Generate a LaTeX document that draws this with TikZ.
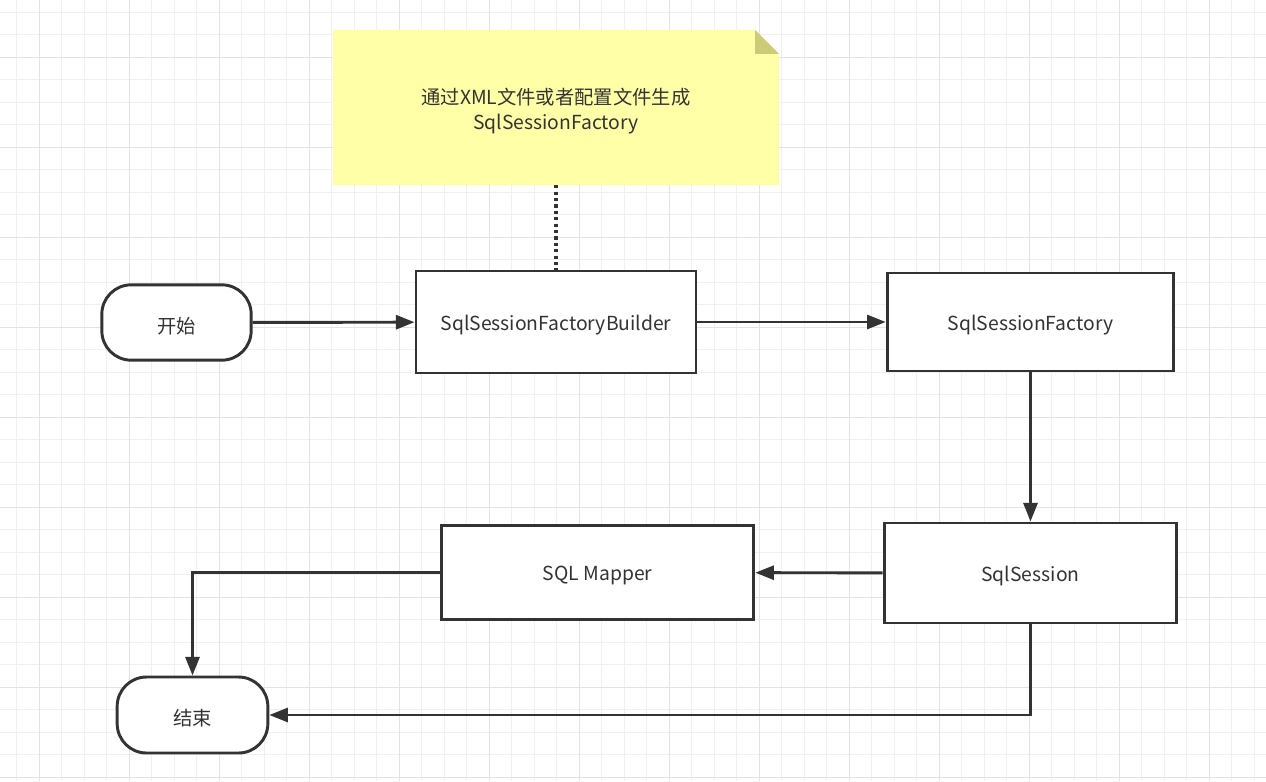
\documentclass[tikz,border=0pt]{standalone}
\usepackage{fontspec}
\setmainfont{Noto Sans CJK SC}
\usetikzlibrary{arrows.meta}

\definecolor{inkgray}{HTML}{333333}
\definecolor{minorgrid}{HTML}{F0F0F0}
\definecolor{majorgrid}{HTML}{E3E3E3}
\definecolor{notefill}{HTML}{FFFFA8}
\definecolor{notefold}{HTML}{CCCC78}

\newcommand{\lowtext}[1]{\raisebox{-2.5pt}[\height][\depth]{#1}}

\tikzset{
    proc/.style={draw=inkgray, line width=2.2pt, fill=white, text=inkgray},
    term/.style={proc, rounded corners=22pt, minimum width=112pt, minimum height=56.5pt},
    arr/.style={draw=inkgray, line width=2.2pt, -{Triangle[length=14pt,width=10.5pt]}},
    dotline/.style={draw=inkgray, line width=2.4pt, dash pattern=on 2.4pt off 2.4pt}
}

\begin{document}
\begin{tikzpicture} [x=0.75pt, y=-0.75pt, font=\fontsize{14.5}{19}\selectfont]
            \fill[white] (0,0) rectangle (1266,781);
            \useasboundingbox (0,0) rectangle (1266,781);

             %grid
                 \foreach \k in {0,...,55}
                     \draw[minorgrid, line width=0.8pt] ({16.8+22.5*\k},0) -- ++(0,781);
                 \foreach \k in {0,...,34}
                     \draw[minorgrid, line width=0.8pt] (0,{12.3+22.5*\k}) -- ++(1266,0);
                 \foreach \k in {0,...,13}
                     \draw[majorgrid, line width=0.8pt] ({39.3+90*\k},0) -- ++(0,781);
                 \foreach \k in {0,...,8}
                     \draw[majorgrid, line width=0.8pt] (0,{57.3+90*\k}) -- ++(1266,0);

             %note
                 \fill[notefill] (333,30) -- (755,30) -- (779,54) -- (779,185) -- (333,185) -- cycle;
                 \fill[notefold] (755,30) -- (755,54) -- (779,54) -- cycle;
                 \node[text=inkgray, align=center, minimum width=334.5pt, minimum height=116.25pt] (note) at (556,107.5)
                     {\lowtext{通过XML文件或者配置文件生成}\\\lowtext{SqlSessionFactory}};

             %steps
                 \node[term] (start) at (176.5,322.5) {\lowtext{开始}};
                 \node[proc, minimum width=210pt, minimum height=76.5pt] (builder) at (556,322) {\lowtext{SqlSessionFactoryBuilder}};
                 \node[proc, minimum width=215pt, minimum height=73.5pt] (factory) at (1030.5,322) {\lowtext{SqlSessionFactory}};
                 \node[proc, minimum width=219.5pt, minimum height=75pt] (session) at (1030.5,573) {\lowtext{SqlSession}};
                 \node[proc, minimum width=234.5pt, minimum height=71pt] (mapper) at (597.5,572.5) {\lowtext{SQL Mapper}};
                 \node[term, minimum width=113pt, minimum height=57pt] (end) at (192.5,715) {\lowtext{结束}};

             %links
                 \draw[dotline] (note.south) -- (builder.north);
                 \draw[arr] (start) -- (builder);
                 \draw[arr] (builder) -- (factory);
                 \draw[arr] (factory) -- (session);
                 \draw[arr] (session) -- (mapper);
                 \draw[arr] (mapper.west) -| (end.north);
                 \draw[arr] (session.south) |- (end.east);
             \end{tikzpicture}
\end{document}
